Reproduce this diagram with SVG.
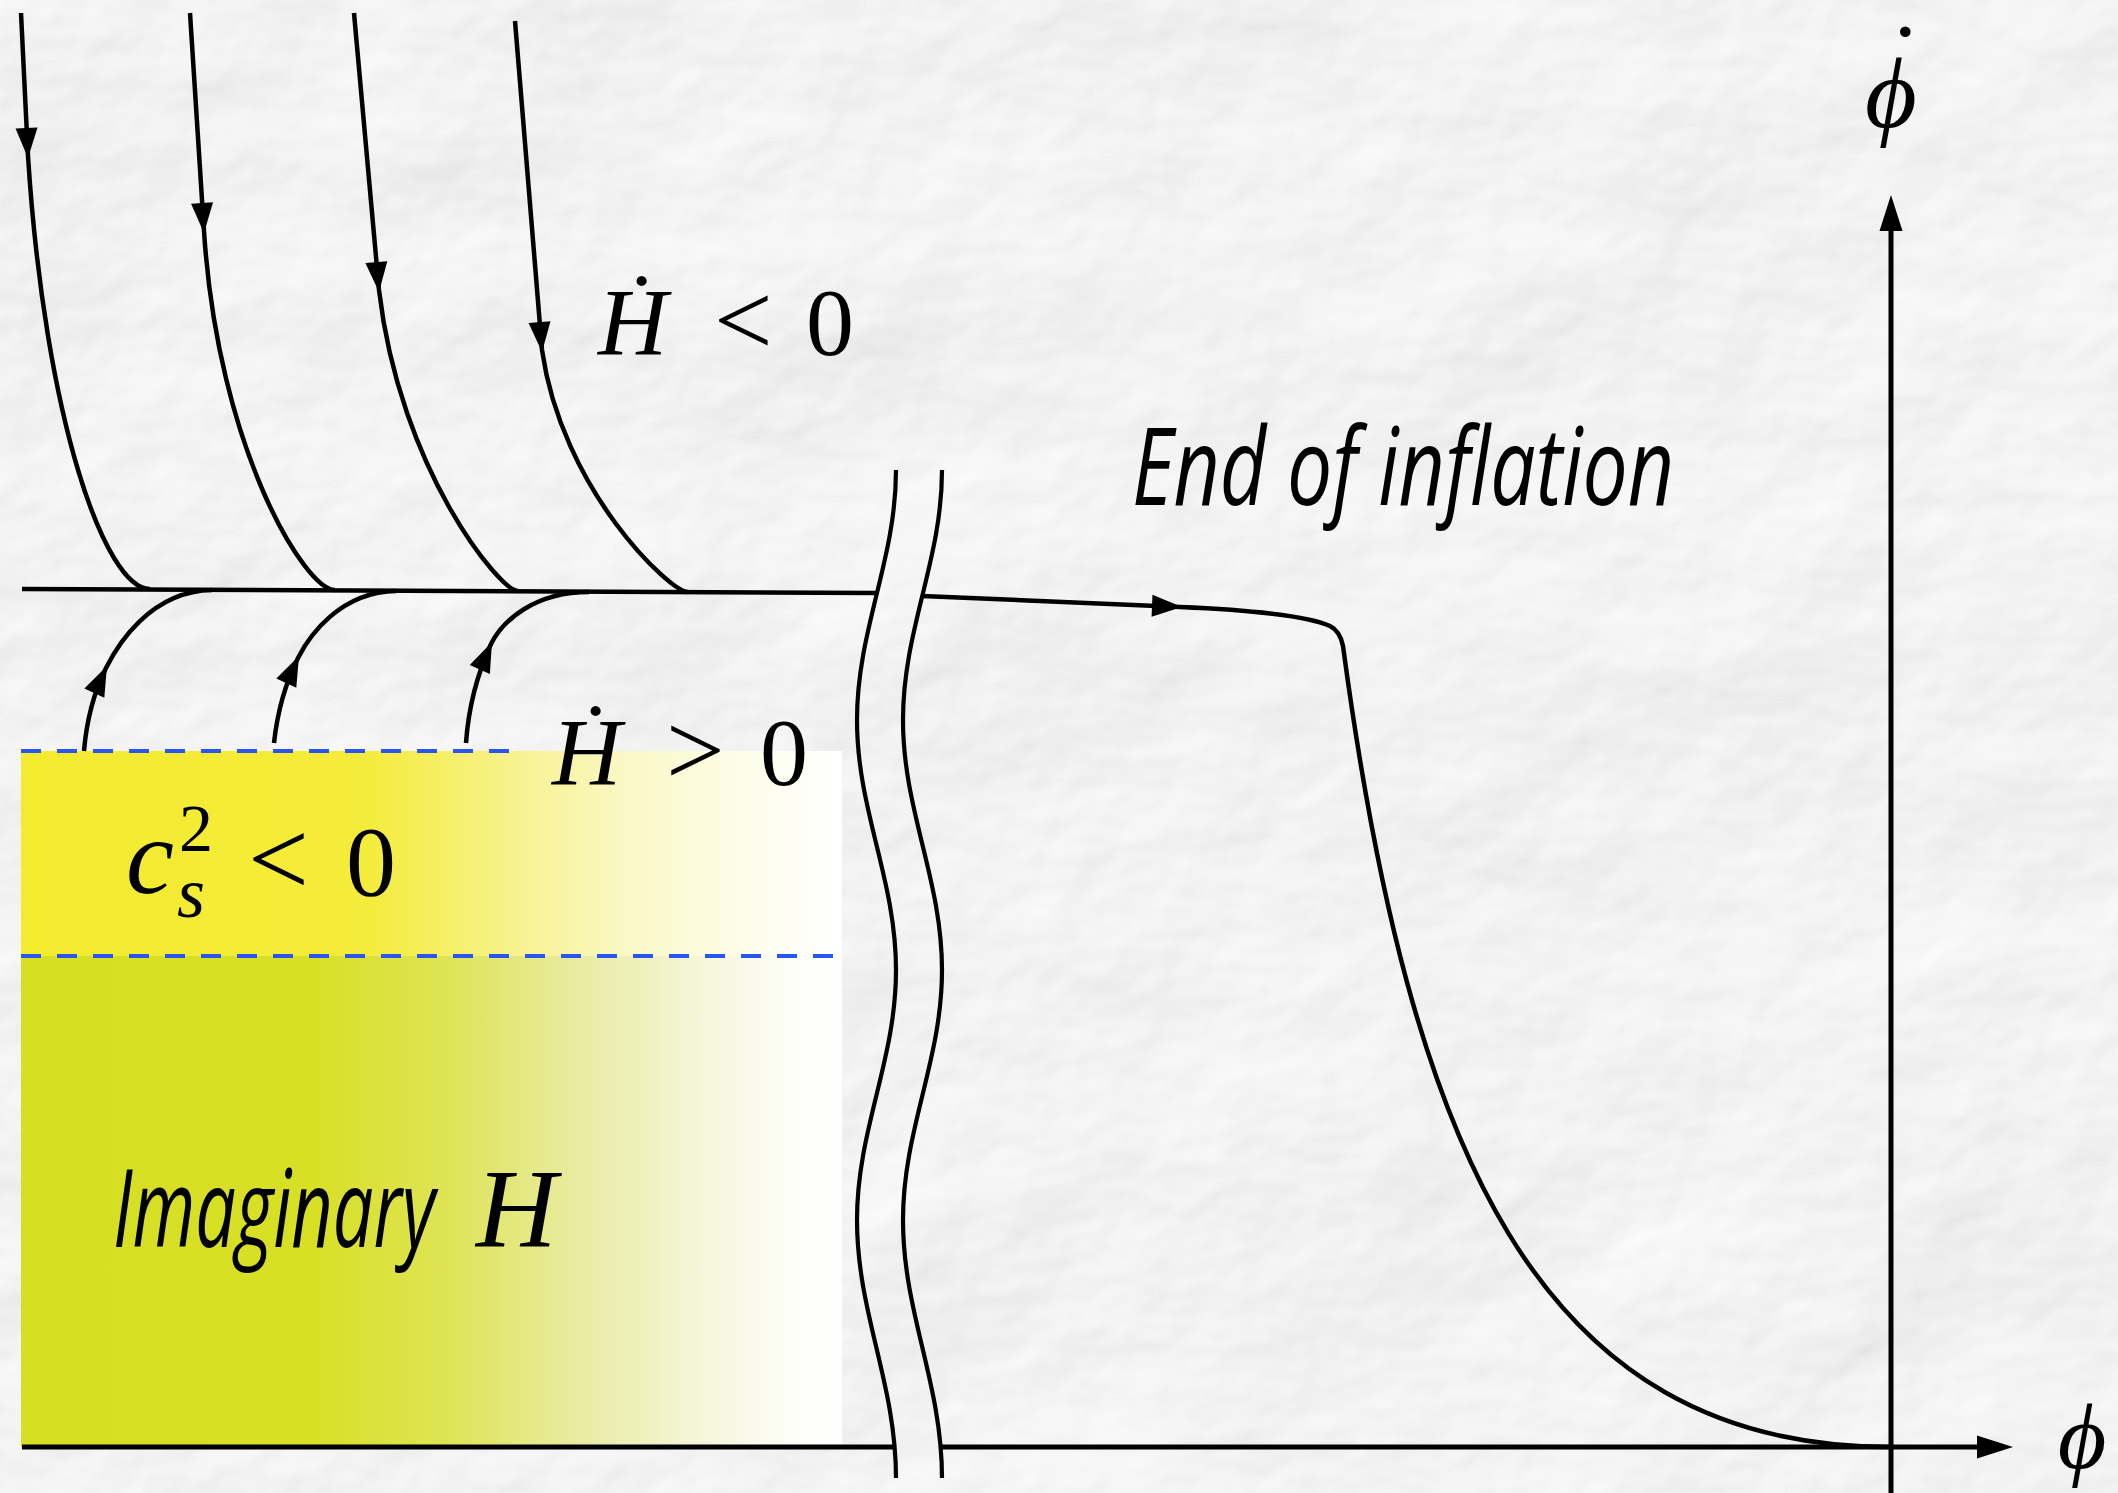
<svg xmlns="http://www.w3.org/2000/svg" xmlns:xlink="http://www.w3.org/1999/xlink" width="2118" height="1493" viewBox="0 0 2118 1493">
<style>
.traj{fill:none;stroke:#000;stroke-width:4.5;stroke-linecap:butt}
.axis{fill:none;stroke:#000;stroke-width:5}
.brk{fill:none;stroke:#000;stroke-width:4.2}
.dash{fill:none;stroke:#2b55f2;stroke-width:4.2;stroke-dasharray:20 16}
.math{font-family:"Liberation Serif","DejaVu Serif",serif;fill:#000}
.it{font-style:italic}
.hand{font-family:"Open Sans","DejaVu Sans",sans-serif;font-style:italic;font-weight:400;fill:#000}
</style>
<defs>
<filter id="paper" x="0" y="0" width="2118" height="1493" filterUnits="userSpaceOnUse">
<feTurbulence type="fractalNoise" baseFrequency="0.003 0.004" numOctaves="5" seed="11" result="n"/>
<feDiffuseLighting in="n" surfaceScale="10" diffuseConstant="1" lighting-color="#ffffff" result="l"><feDistantLight azimuth="235" elevation="63"/></feDiffuseLighting>
</filter>
<linearGradient id="gUp" x1="0" y1="0" x2="1" y2="0">
<stop offset="0" stop-color="#f3eb2e"/>
<stop offset="0.42" stop-color="#f4ec3a"/>
<stop offset="0.6" stop-color="#f7f28e"/>
<stop offset="0.74" stop-color="#faf8c6"/>
<stop offset="0.88" stop-color="#fdfdea"/>
<stop offset="1" stop-color="#ffffff"/>
</linearGradient>
<linearGradient id="gLow" x1="0" y1="0" x2="1" y2="0">
<stop offset="0" stop-color="#d6df22"/>
<stop offset="0.36" stop-color="#d8e026"/>
<stop offset="0.52" stop-color="#dee455"/>
<stop offset="0.67" stop-color="#e8eb9e"/>
<stop offset="0.83" stop-color="#f5f6da"/>
<stop offset="0.95" stop-color="#fefefa"/>
<stop offset="1" stop-color="#ffffff"/>
</linearGradient>
<path id="ah" d="M0,0 L-30,-11 L-30,11 Z" fill="#000"/>
<path id="axh" d="M0,0 L-36,-11.5 L-36,11.5 Z" fill="#000"/>
</defs>

<g id="background">
<rect x="0" y="0" width="2118" height="1493" fill="#e8e7e9"/>
<rect x="0" y="0" width="2118" height="1493" filter="url(#paper)"/>
</g>

<g id="regions">
<rect id="region-cs2" x="21" y="751" width="821" height="205" fill="url(#gUp)"/>
<rect id="region-imaginary" x="21" y="956" width="821" height="491" fill="url(#gLow)"/>
<path class="dash" d="M21,751 H513"/>
<path class="dash" d="M21,956 H842"/>
</g>

<g id="axes">
<path class="axis" d="M22,1447 H894"/>
<path class="axis" d="M942,1447 H1980"/>
<use href="#axh" transform="translate(2013,1447)"/>
<path class="axis" d="M1891,1493 V225"/>
<use href="#axh" transform="translate(1891,195) rotate(-90)"/>
</g>

<g id="connectors">
<!-- separatrix -->
<path class="traj" d="M22,589 L877,593"/>
<path class="traj" d="M922,596 L1180,607 C1250,610 1308,616 1330,626 Q1340,631 1343,646 C1410,1145 1535,1447 1891,1447"/>
<use href="#ah" transform="translate(1182,607) rotate(2.3)"/>
<!-- downward trajectories -->
<path class="traj" d="M21,13 L28,156 C45,420 105,589 150,589"/>
<use href="#ah" transform="translate(28,158) rotate(87.2)"/>
<path class="traj" d="M190,13 L204,231 C218,449 305,590 335,590"/>
<use href="#ah" transform="translate(204,233) rotate(86.3)"/>
<path class="traj" d="M354,13 L379,290 C400,470 500,591 518,591"/>
<use href="#ah" transform="translate(379,292) rotate(84.9)"/>
<path class="traj" d="M515,21 L542,350 C562,490 670,592 688,592"/>
<use href="#ah" transform="translate(542,352) rotate(85.3)"/>
<!-- upward trajectories -->
<path class="traj" d="M84,751 C87,716 95,690 106,668 C117,646 150,591 212,590"/>
<use href="#ah" transform="translate(107,666) rotate(-65)"/>
<path class="traj" d="M274,743 C278,706 287,680 298,658 C309,636 340,592 396,591"/>
<use href="#ah" transform="translate(299,656) rotate(-65)"/>
<path class="traj" d="M466,743 C469,700 480,668 491,644 C503,620 535,592 589,592"/>
<use href="#ah" transform="translate(492,642) rotate(-66)"/>
</g>

<g id="axis-break">
<path class="brk" d="M896,470 C896,561 857,629 857,720 C857,811 896,879 896,970 C896,1061 857,1129 857,1220 C857,1313 896,1383 896,1478"/>
<path class="brk" d="M942,470 C942,561 903,629 903,720 C903,811 942,879 942,970 C942,1061 903,1129 903,1220 C903,1313 942,1383 942,1478"/>
</g>

<g id="label-hdot-neg">
<text class="math" y="355" font-size="96"><tspan class="it" x="598">Ḣ</tspan><tspan x="714" font-size="104">&lt;</tspan><tspan x="806">0</tspan></text>
</g>
<g id="label-hdot-pos">
<text class="math" y="785" font-size="96"><tspan class="it" x="552">Ḣ</tspan><tspan x="666" font-size="104">&gt;</tspan><tspan x="760">0</tspan></text>
</g>
<g id="label-cs2">
<text class="math" font-size="100"><tspan class="it" x="126" y="893" font-size="108">c</tspan><tspan x="179" y="851" font-size="68">2</tspan><tspan class="it" x="177" y="917" font-size="72">s</tspan><tspan x="248" y="895" font-size="108">&lt;</tspan><tspan x="346" y="895">0</tspan></text>
</g>
<g id="label-imaginary">
<text class="hand" x="113" y="1247" font-size="108" textLength="322" lengthAdjust="spacingAndGlyphs">Imaginary</text>
<text class="math it" x="476" y="1246" font-size="112">H</text>
</g>
<g id="label-end">
<text class="hand" x="1132" y="505" font-size="108" textLength="542" lengthAdjust="spacingAndGlyphs">End of inflation</text>
</g>
<g id="label-phidot">
<text class="math it" font-size="100" text-anchor="middle"><tspan x="1891" y="127">ϕ</tspan><tspan x="1899" y="92">˙</tspan></text>
</g>
<g id="label-phi">
<text class="math it" x="2082" y="1468" font-size="94" text-anchor="middle">ϕ</text>
</g>
</svg>
